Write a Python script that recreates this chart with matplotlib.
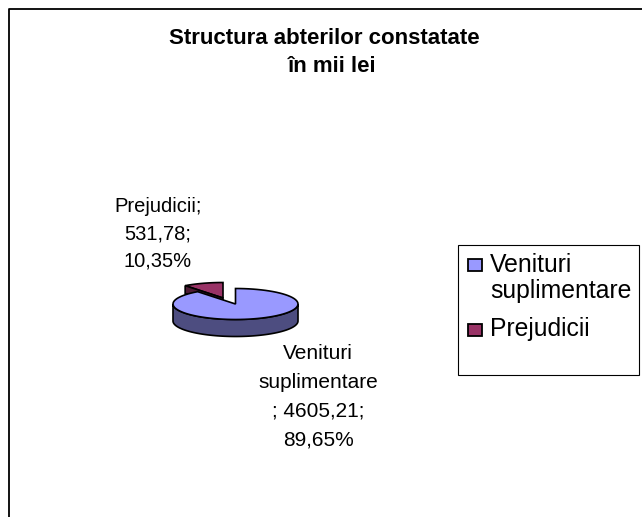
import numpy as np
import matplotlib

matplotlib.use('agg')
import matplotlib.pyplot as plt
from matplotlib.patches import Polygon, Rectangle

categories = ['Venituri\nsuplimentare', 'Prejudicii']
values = [4605.21, 531.78]
percents = ['89,65%', '10,35%']
value_labels = ['4605,21', '531,78']

colors_top = ['#9999ff', '#993366']
colors_side = ['#4d4d80', '#4d1a33']

plt.rcParams['font.family'] = ['Liberation Sans', 'DejaVu Sans']

fig = plt.figure(figsize=(6.42, 5.17), dpi=100)
ax = fig.add_axes([0, 0, 1, 1])
ax.set_xlim(0, 642)
ax.set_ylim(517, 0)
ax.axis('off')

# outer frame, the right and bottom sides run off the picture
ax.plot([8.5, 8.5, 642], [517, 8.5, 8.5], color='black', lw=1.3, solid_capstyle='butt')

ax.text(324, 38, 'Structura abterilor constatate', ha='center', va='center',
        fontsize=16, fontweight='bold')
ax.text(332, 67, 'în mii lei', ha='center', va='center', fontsize=16,
        fontweight='bold')

# pseudo 3d pie
cx, cy = 235.5, 304
rx, ry = 62.5, 15.5
depth = 17
total = sum(values)
slice_deg = values[1] / total * 360


def rim(start, end, ox=0, oy=0, n=80):
    # angles are clockwise from the top of the pie
    t = np.radians(np.linspace(start, end, n))
    return np.column_stack([cx + ox + rx * np.sin(t), cy + oy - ry * np.cos(t)])


def draw_wedge(start, end, top, side, ox=0, oy=0, z=2):
    edge = rim(start, end, ox, oy)
    # outer wall, only the part of the rim facing the viewer
    lo, hi = max(start, 90), min(end, 270)
    if lo < hi:
        front = rim(lo, hi, ox, oy)
        wall = np.vstack([front, front[::-1] + [0, depth]])
        ax.add_patch(Polygon(wall, closed=True, fc=side, ec='black', lw=1.2, zorder=z))
    apex = [cx + ox, cy + oy]
    ax.add_patch(Polygon(np.vstack([[apex], edge]), closed=True, fc=top, ec='black',
                         lw=1.2, zorder=z + 1))


# exploded slice, its cut face goes on top of it
ox, oy = -12.5, -6
left = rim(-slice_deg, -slice_deg, ox, oy, n=1)[0]
apex = np.array([cx + ox, cy + oy])
draw_wedge(-slice_deg, 0, colors_top[1], colors_side[1], ox, oy, z=1)
ax.add_patch(Polygon([left, left + [0, 8], apex + [0, 3], apex], closed=True,
                     fc=colors_side[1], ec='black', lw=1.2, zorder=2.5))
draw_wedge(0, 360 - slice_deg, colors_top[0], colors_side[0], z=3)

ax.text(158, 234, 'Prejudicii;\n' + value_labels[1] + ';\n' + percents[1],
        ha='center', va='center', fontsize=14.5, linespacing=1.55)
ax.text(318, 397, 'Venituri\nsuplimentare\n; ' + value_labels[0] + ';\n' + percents[0],
        ha='center', va='center', fontsize=15, linespacing=1.65)

# legend box
ax.add_patch(Rectangle((457.5, 244.5), 181, 130, fc='white', ec='black', lw=0.8, zorder=1))
ax.add_patch(Rectangle((467.5, 258.5), 14, 12.5, fc=colors_top[0], ec='black', lw=1.3, zorder=2))
ax.add_patch(Rectangle((467.5, 323.5), 14, 12.5, fc=colors_top[1], ec='black', lw=1.3, zorder=2))
ax.text(490, 278, categories[0], va='center', ha='left', fontsize=17.8, linespacing=1.15)
ax.text(490, 329, categories[1], va='center', ha='left', fontsize=17.8)

fig.savefig('out.png', dpi=100)
